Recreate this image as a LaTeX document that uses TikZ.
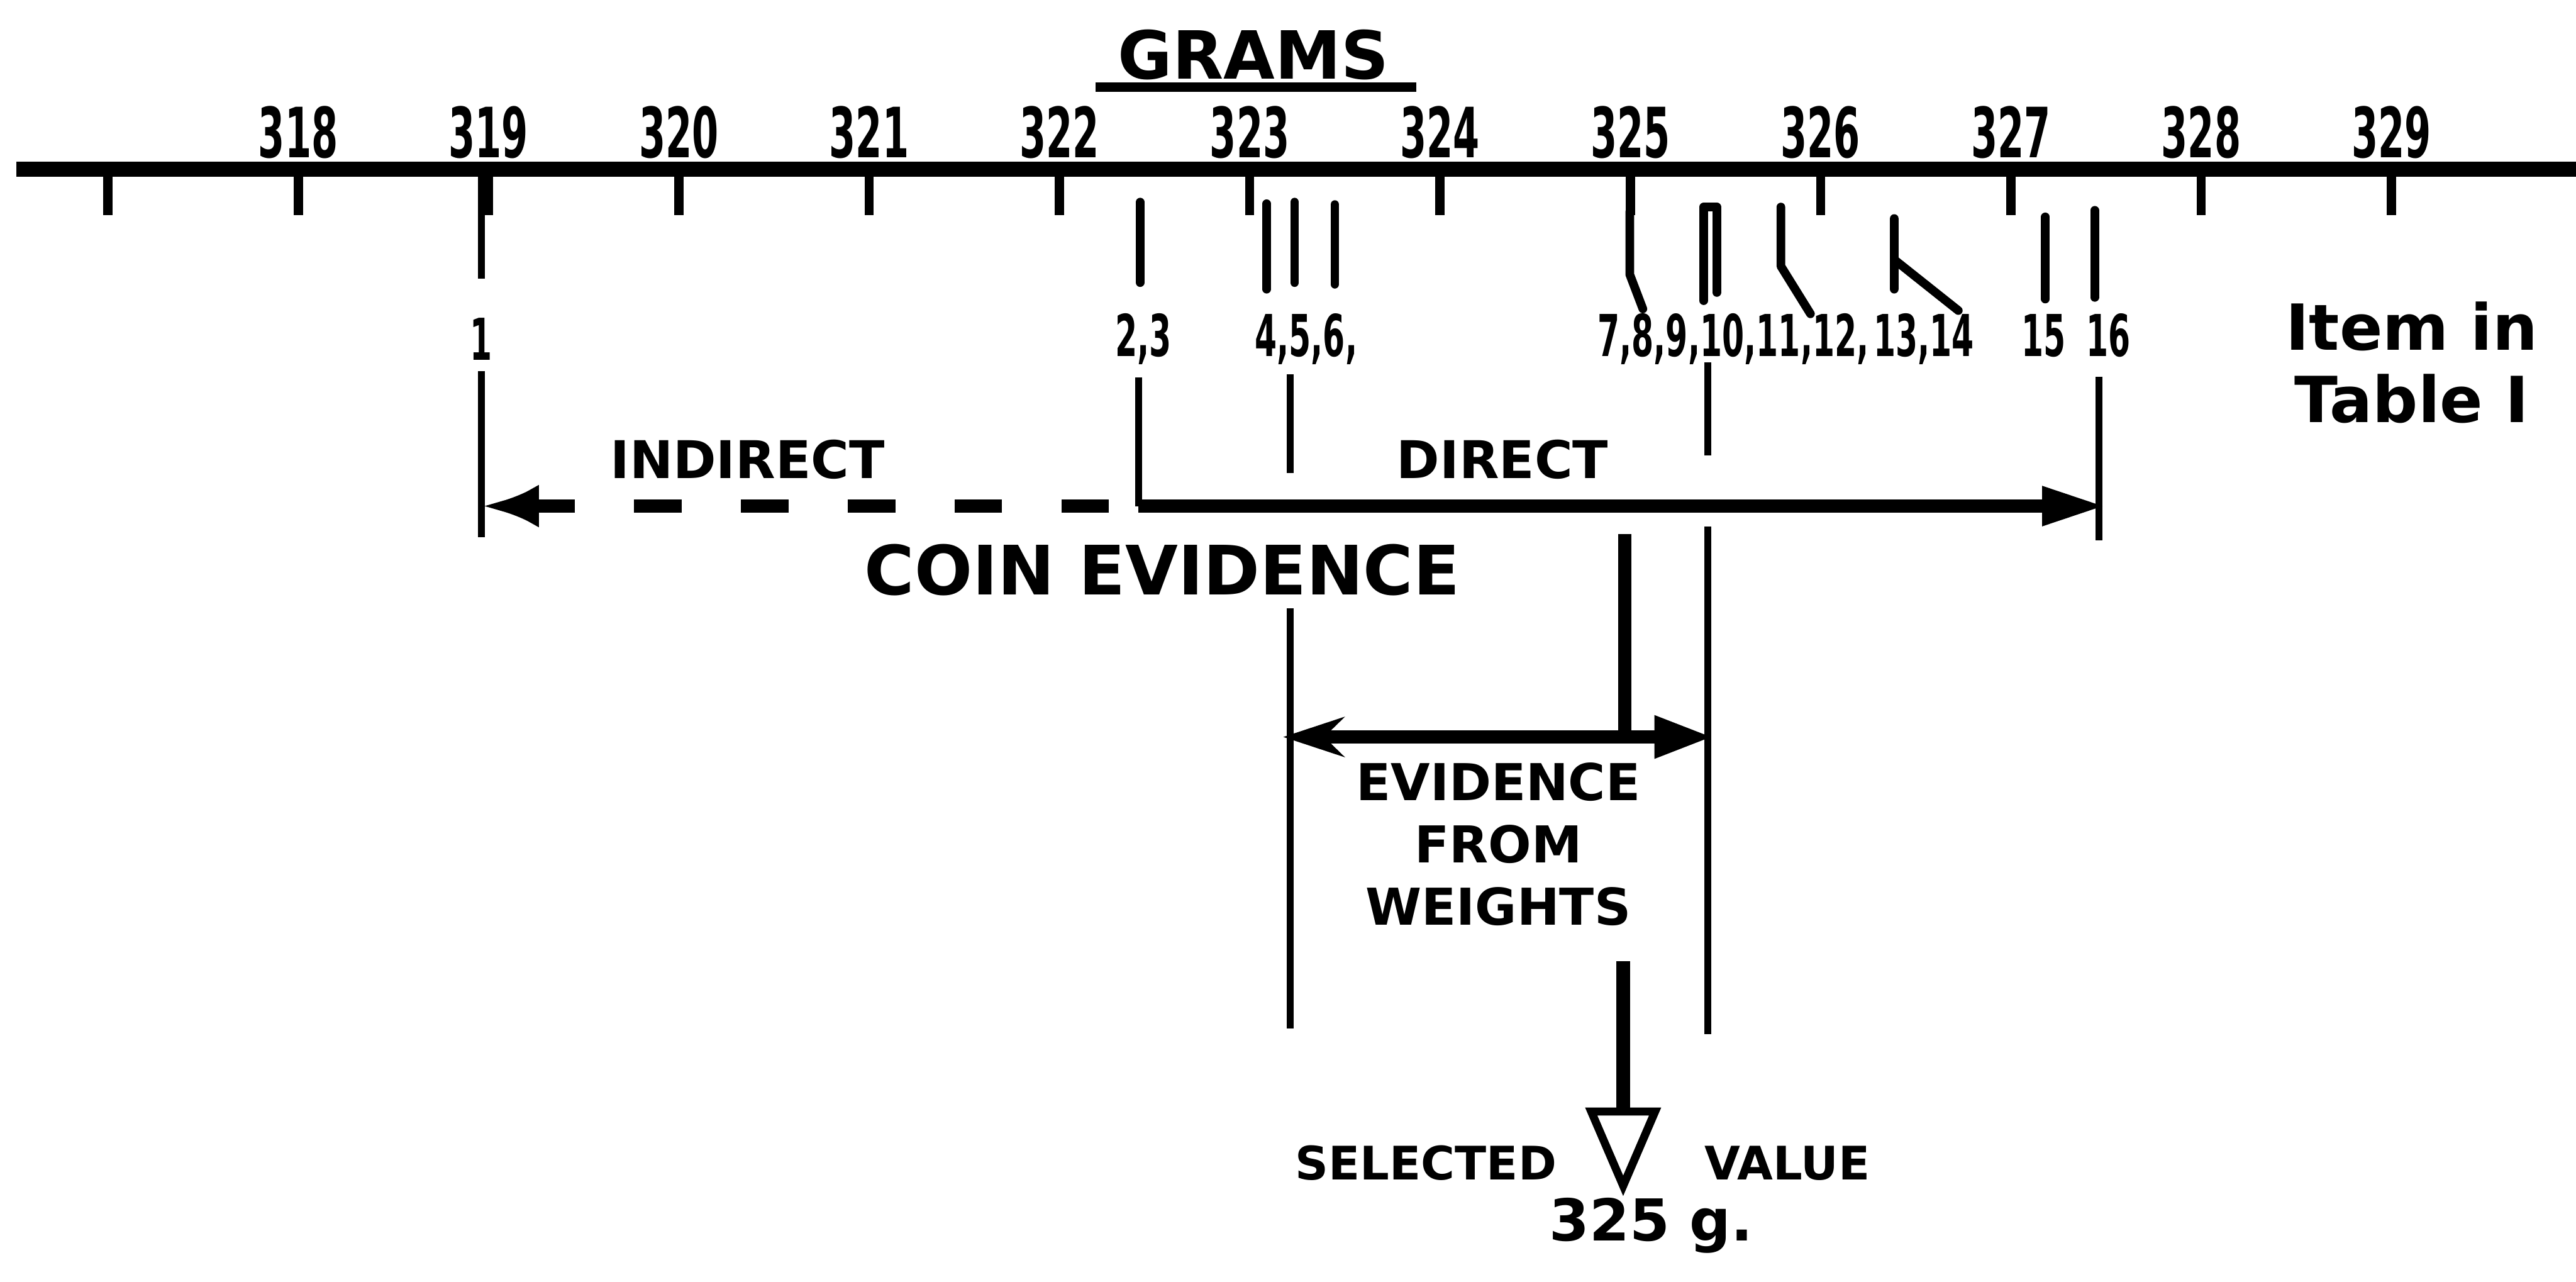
\documentclass[tikz,border=0pt]{standalone}
\usepackage{fontspec}
\setmainfont{DejaVu Sans}
\newfontfamily\digitfont{DejaVu Sans}[FakeStretch=0.55]
\usetikzlibrary{arrows.meta}
\newcommand\gramsize{1.1583}
\tikzset{handtext/.style={font=\bfseries, inner sep=0pt}}
\tikzset{axisline/.style={line width=2.6pt}}
\tikzset{tickline/.style={line width=1.6pt}}
\tikzset{markline/.style={line width=1.5pt, line join=round, line cap=round}}
\tikzset{thinline/.style={line width=1.2pt}}
\tikzset{thickline/.style={line width=2.3pt}}
\tikzset{scalelabel/.style={font=\digitfont\bfseries\fontsize{12}{12}\selectfont, anchor=base}}
\tikzset{itemlabel/.style={font=\digitfont\bfseries\fontsize{10}{10}\selectfont, anchor=base}}
\tikzset{wordlabel/.style={font=\bfseries\fontsize{9}{9}\selectfont, anchor=base}}
\tikzset{rangearrow/.style={thickline, -{Triangle[length=3.9mm,width=2.2mm]}}}

\begin{document}
\begin{tikzpicture}[handtext]
\useasboundingbox (0,0) rectangle (15.68,7.80);
\node[wordlabel, font=\bfseries\fontsize{11.5}{11.5}\selectfont] (grams) at (7.63,7.32) {GRAMS};
\draw[line width=1.7pt] ([xshift=-0.13cm,yshift=-0.05cm]grams.base west) -- ([xshift=0.16cm,yshift=-0.05cm]grams.base east);
\coordinate (axisleft) at (0.10,6.77);
\coordinate (axisright) at (15.68,6.77);
\draw[axisline] (axisleft) -- (axisright);
\foreach \i in {0,...,12} {
	\coordinate (tick\i) at (0.657+\i*\gramsize,6.77);
	\draw[tickline] (tick\i) -- ++(0,-0.28);
}
\foreach \ii [count=\i from 1] in {318,...,329} {
	\node[scalelabel] (gram\ii) at (0.657+\i*\gramsize,6.84) {\ii};
}
\node[itemlabel] (item1) at (2.93,5.61) {1};
\node[itemlabel] (item23) at (6.96,5.63) {2,3};
\node[itemlabel] (item456) at (7.95,5.63) {4,5,6,};
\node[itemlabel] (item7to12) at (10.55,5.63) {7,8,9,10,11,12,};
\node[itemlabel] (item1314) at (11.71,5.63) {13,14};
\node[itemlabel] (item15) at (12.44,5.63) {15};
\node[itemlabel] (item16) at (12.835,5.63) {16};
\node[wordlabel, font=\bfseries\fontsize{11}{12.5}\selectfont, align=center, anchor=north] (tableref) at (14.68,5.97) {Item in\\Table I};
\foreach \xx/\ytop/\ybot in {6.94/6.57/6.08, 7.71/6.56/6.04, 7.88/6.57/6.08, 8.125/6.555/6.07, 12.45/6.48/5.98, 12.75/6.52/5.99} {
	\draw[markline] (\xx,\ytop) -- (\xx,\ybot);
}
\draw[markline] (9.92,6.51) -- (9.92,6.13) -- (10.00,5.92);
\draw[markline] (10.37,5.97) -- (10.37,6.54) -- (10.45,6.54) -- (10.45,6.02);
\draw[markline] (10.84,6.54) -- (10.84,6.18) -- (11.02,5.89);
\draw[markline] (11.53,6.47) -- (11.53,6.04) (11.53,6.22) -- (11.92,5.91);
\coordinate (indirectend) at (2.93,4.72);
\coordinate (split) at (6.93,4.72);
\coordinate (directend) at (12.82,4.72);
\coordinate (sixteenfoot) at (12.775,4.51);
\coordinate (leftstub) at (7.855,4.92);
\coordinate (weightleft) at (7.855,1.54);
\coordinate (rightstub) at (10.395,5.03);
\coordinate (weightright) at (10.395,1.505);
\coordinate (selecttop) at (9.89,4.55);
\coordinate (selectfoot) at (9.89,3.315);
\coordinate (evleft) at (7.81,3.315);
\coordinate (evright) at (10.43,3.315);
\coordinate (selectstart) at (9.88,1.95);
\coordinate (selectvalue) at (9.88,0.52);
\draw[thinline] (item1 |- axisleft) -- ([yshift=0.23cm]item1.north);
\draw[thinline] (item1.south) ++(0,-0.06) -- ([yshift=-0.19cm]indirectend);
\draw[thinline] (item23.south -| split) ++(0,-0.07) -- (split);
\draw[thinline] (item456.south -| leftstub) ++(0,-0.05) -- (leftstub);
\draw[thinline] (item7to12.south -| rightstub) ++(0,0.02) -- (rightstub);
\draw[thinline] (item16.south -| sixteenfoot) ++(0,-0.11) -- (sixteenfoot);
\draw[thickline, dash pattern=on 0.29cm off 0.36cm, dash phase=0.47cm, -{Latex[length=3.5mm,width=2.6mm]}] (split) -- (indirectend);
\draw[rangearrow] (split) -- (directend);
\node[wordlabel] (indirect) at (4.55,4.89) {INDIRECT};
\node[wordlabel] (direct) at (9.145,4.89) {DIRECT};
\node[wordlabel, font=\bfseries\fontsize{11.8}{11.8}\selectfont] (coin) at (7.075,4.18) {COIN EVIDENCE};
\draw[thinline] (coin.south -| weightleft) ++(0,-0.07) -- (weightleft);
\draw[thinline] (rightstub) ++(0,-0.435) -- (weightright);
\draw[thickline] (selecttop) -- (selectfoot);
\draw[thickline, {Stealth[length=3.7mm,width=2.4mm]}-{Triangle[length=3.6mm,width=2.4mm]}] (evleft) -- (evright);
\node[wordlabel, font=\bfseries\fontsize{8.8}{10.8}\selectfont, align=center, anchor=north] (weights) at (9.12,3.165) {EVIDENCE\\FROM\\WEIGHTS};
\draw[thickline, -{Triangle[open,length=5.4mm,width=4.5mm,line width=1.4pt]}] (selectstart) -- (selectvalue);
\node[wordlabel, font=\bfseries\fontsize{8}{8}\selectfont] (selected) at (8.68,0.62) {SELECTED};
\node[wordlabel, font=\bfseries\fontsize{8}{8}\selectfont] (value) at (10.88,0.62) {VALUE};
\node[wordlabel, font=\bfseries\fontsize{10}{10}\selectfont] (result) at (10.05,0.25) {325 g.};
\end{tikzpicture}
\end{document}
